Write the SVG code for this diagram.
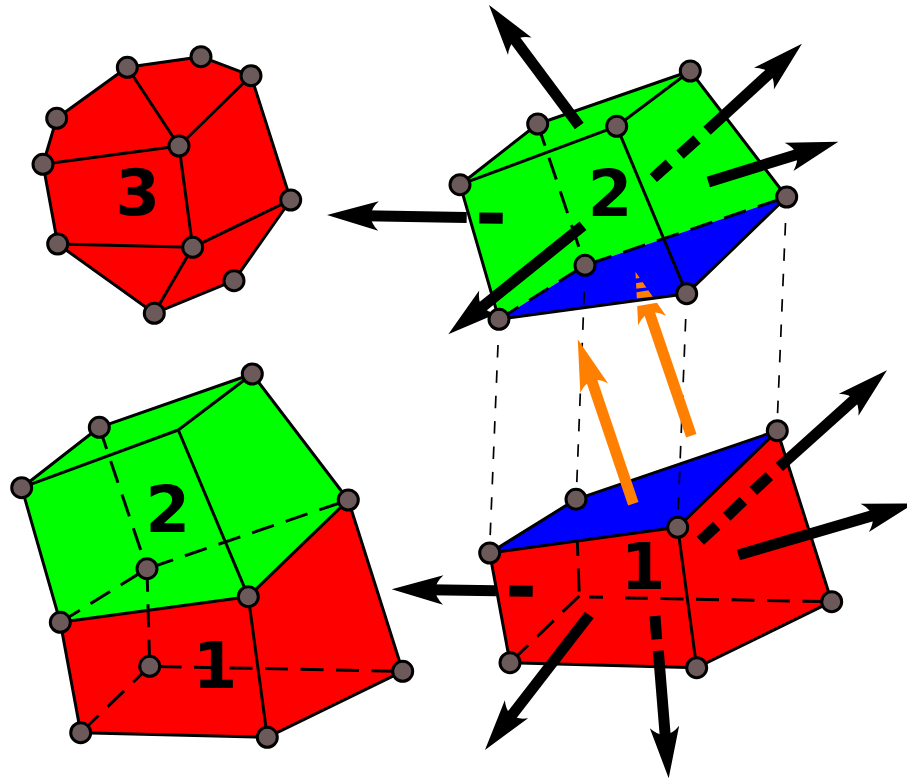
<svg xmlns="http://www.w3.org/2000/svg" width="907" height="780" viewBox="0 0 907 780">
<style>
.r{fill:#f00}.g{fill:#0f0}.b{fill:#00f}
.e{fill:none;stroke:#000;stroke-width:3;stroke-linejoin:round}
.d{fill:none;stroke:#000;stroke-width:3;stroke-dasharray:23 12.5}
.t{fill:none;stroke:#000;stroke-width:1.7;stroke-dasharray:12.5 12.9}
.a{fill:none;stroke:#000;stroke-width:11}
.ah{marker-end:url(#hk)}
.o{fill:none;stroke:#ff8000;stroke-width:11;marker-end:url(#ho)}
.n{fill:#6c5a5a;stroke:#000;stroke-width:3}
text{font-family:"DejaVu Sans",sans-serif;font-weight:700;font-size:64px;text-anchor:middle;fill:#000}
</style>
<defs>
<marker id="hk" markerUnits="userSpaceOnUse" viewBox="-56 -16 58 32" markerWidth="58" markerHeight="32" refX="-38" refY="0" orient="auto"><path d="M0,0L-51.5,-14.7Q-36,0-51.5,14.7Z" fill="#000"/></marker>
<marker id="ho" markerUnits="userSpaceOnUse" viewBox="-56 -16 58 32" markerWidth="58" markerHeight="32" refX="-38" refY="0" orient="auto"><path d="M0,0L-51.5,-14.7Q-36,0-51.5,14.7Z" fill="#ff8000"/></marker>
<clipPath id="cut"><path d="M620,309L700,295.6V440H620Z"/><path d="M625,280.4L645,277L645,262L625,262Z"/><path d="M625,285.1L655,280L655,286.4L625,290Z"/><path d="M625,294.2L665,287.4L665,295.2L625,299.7Z"/></clipPath>
</defs>

<g id="cell-3">
<path class="r" d="M127.3,67.3L201,56.7L251,75.7L290.7,200L234,280.7L154.3,313.3L57.7,244L43,164.3L56.7,118.3Z"/>
<path class="e" d="M127.3,67.3L201,56.7L251,75.7L290.7,200L234,280.7L154.3,313.3L57.7,244L43,164.3L56.7,118.3Z"/>
<path class="e" d="M127.3,67.3L179,146M251,75.7L179,146M43,164.3L179,146L192.7,247.3M57.7,244L192.7,247.3M154.3,313.3L192.7,247.3L290.7,200"/>
<text x="137.7" y="215">3</text>
</g>

<g id="cell-2-top">
<path class="g" d="M460,184.7L537.7,124L690.3,71L786.7,197L585,265.3L499,319.3Z"/>
<path class="b" d="M499,319.3L585,265.3L786.7,197L686.7,293.7Z"/>
<path class="e" d="M460,184.7L537.7,124L690.3,71L786.7,197L686.7,293.7L499,319.3Z"/>
<path class="e" d="M460,184.7L616.7,126.3L690.3,71M616.7,126.3L686.7,293.7"/>
<path class="d" d="M537.7,124L585,265.3M499,319.3L585,265.3L786.7,197"/>
<text x="610" y="216">2</text>
</g>

<g id="cell-1-right">
<path class="r" d="M489.7,553L677.7,527.3L777.3,430.7L831.7,601.7L696.7,667.7L510,662.7Z"/>
<path class="b" d="M489.7,553L576,499.3L777.3,430.7L677.7,527.3Z"/>
<path class="e" d="M489.7,553L576,499.3L777.3,430.7L831.7,601.7L696.7,667.7L510,662.7Z"/>
<path class="e" d="M489.7,553L677.7,527.3L777.3,430.7M677.7,527.3L696.7,667.7"/>
<path class="d" d="M579.3,596L510,662.7M589,597L603,597.2M625,597.9L831.7,601.7"/>
<path class="d" style="stroke-dashoffset:8" d="M577.3,541L579.3,596"/>
<text x="643" y="589">1</text>
</g>

<g id="cell-merged">
<path class="g" d="M21.7,487.7L99.3,427.3L252.3,374L348.3,500L248.3,596.7L60.3,622.3Z"/>
<path class="r" d="M60.3,622.3L248.3,596.7L348.3,500L402.7,671.3L267.3,737.3L80.7,732.7Z"/>
<path class="e" d="M21.7,487.7L99.3,427.3L252.3,374L348.3,500L402.7,671.3L267.3,737.3L80.7,732.7L60.3,622.3Z"/>
<path class="e" d="M21.7,487.7L178.3,430L252.3,374M178.3,430L248.3,596.7L267.3,737.3M60.3,622.3L248.3,596.7L348.3,500"/>
<path class="d" d="M99.3,427.3L147,568.7M60.3,622.3L147,568.7L348.3,500M147,568.7L149.7,666.3L402.7,671.3M149.7,666.3L80.7,732.7"/>
<text x="167.7" y="531.7">2</text>
<text x="215" y="688">1</text>
</g>

<g id="connectors">
<path class="t" d="M498,345L490,540"/>
<path class="t" d="M584.3,292L576.5,490"/>
<path class="t" d="M685.7,319L678,515"/>
<path class="t" d="M785.5,223L777.5,415"/>

<path class="a ah" d="M579.3,126L511.7,35.4"/>
<path class="a" d="M653.3,178L669.3,163.7M680,154.7L697,139.3"/>
<path class="a ah" d="M707,130.7L773.9,69.5"/>
<path class="a ah" d="M708.3,182L802,152.9"/>
<path class="a" d="M479.3,218L502.7,218.3"/>
<path class="a ah" d="M466.7,217.5L365,215.7"/>
<path class="a ah" d="M583,225.7L477.9,310.4"/>

<path class="a" d="M700.3,540.7L716.7,525.7M726.7,516.7L743.3,500.7M753.3,491L769.3,476"/>
<path class="a ah" d="M779.3,467L858.7,395.7"/>
<path class="a ah" d="M738.3,555L877.7,514.1"/>
<path class="a" d="M509.3,591L532.7,591.3"/>
<path class="a ah" d="M496,590.7L429.7,589.8"/>
<path class="a ah" d="M589.3,615L508.2,719.9"/>
<path class="a" d="M655,616L656.7,639.3"/>
<path class="a ah" d="M658.3,650.7L665.6,740.4"/>

<g clip-path="url(#cut)"><path class="o" d="M691.3,435.7L647.7,307.8"/></g>
<path class="o" d="M633.3,503.7L589.9,375.3"/>
</g>

<g id="v3-1"><circle class="n" cx="127.3" cy="67.3" r="10"/></g>
<g id="v3-2"><circle class="n" cx="201" cy="56.7" r="10"/></g>
<g id="v3-3"><circle class="n" cx="251" cy="75.7" r="10"/></g>
<g id="v3-4"><circle class="n" cx="179" cy="146" r="10"/></g>
<g id="v3-5"><circle class="n" cx="56.7" cy="118.3" r="10"/></g>
<g id="v3-6"><circle class="n" cx="43" cy="164.3" r="10"/></g>
<g id="v3-7"><circle class="n" cx="290.7" cy="200" r="10"/></g>
<g id="v3-8"><circle class="n" cx="192.7" cy="247.3" r="10"/></g>
<g id="v3-9"><circle class="n" cx="57.7" cy="244" r="10"/></g>
<g id="v3-10"><circle class="n" cx="234" cy="280.7" r="10"/></g>
<g id="v3-11"><circle class="n" cx="154.3" cy="313.3" r="10"/></g>

<g id="v2-1"><circle class="n" cx="690.3" cy="71" r="10"/></g>
<g id="v2-2"><circle class="n" cx="537.7" cy="124" r="10"/></g>
<g id="v2-3"><circle class="n" cx="616.7" cy="126.3" r="10"/></g>
<g id="v2-4"><circle class="n" cx="460" cy="184.7" r="10"/></g>
<g id="v2-5"><circle class="n" cx="786.7" cy="197" r="10"/></g>
<g id="v2-6"><circle class="n" cx="585" cy="265.3" r="10"/></g>
<g id="v2-7"><circle class="n" cx="686.7" cy="293.7" r="10"/></g>
<g id="v2-8"><circle class="n" cx="499" cy="319.3" r="10"/></g>

<g id="v1-1"><circle class="n" cx="777.3" cy="430.7" r="10"/></g>
<g id="v1-2"><circle class="n" cx="576" cy="499.3" r="10"/></g>
<g id="v1-3"><circle class="n" cx="677.7" cy="527.3" r="10"/></g>
<g id="v1-4"><circle class="n" cx="489.7" cy="553" r="10"/></g>
<g id="v1-5"><circle class="n" cx="831.7" cy="601.7" r="10"/></g>
<g id="v1-6"><circle class="n" cx="510" cy="662.7" r="10"/></g>
<g id="v1-7"><circle class="n" cx="696.7" cy="667.7" r="10"/></g>

<g id="vm-1"><circle class="n" cx="252.3" cy="374" r="10"/></g>
<g id="vm-2"><circle class="n" cx="99.3" cy="427.3" r="10"/></g>
<g id="vm-3"><circle class="n" cx="21.7" cy="487.7" r="10"/></g>
<g id="vm-4"><circle class="n" cx="348.3" cy="500" r="10"/></g>
<g id="vm-5"><circle class="n" cx="147" cy="568.7" r="10"/></g>
<g id="vm-6"><circle class="n" cx="248.3" cy="596.7" r="10"/></g>
<g id="vm-7"><circle class="n" cx="60.3" cy="622.3" r="10"/></g>
<g id="vm-8"><circle class="n" cx="149.7" cy="666.3" r="10"/></g>
<g id="vm-9"><circle class="n" cx="402.7" cy="671.3" r="10"/></g>
<g id="vm-10"><circle class="n" cx="80.7" cy="732.7" r="10"/></g>
<g id="vm-11"><circle class="n" cx="267.3" cy="737.3" r="10"/></g>
</svg>
